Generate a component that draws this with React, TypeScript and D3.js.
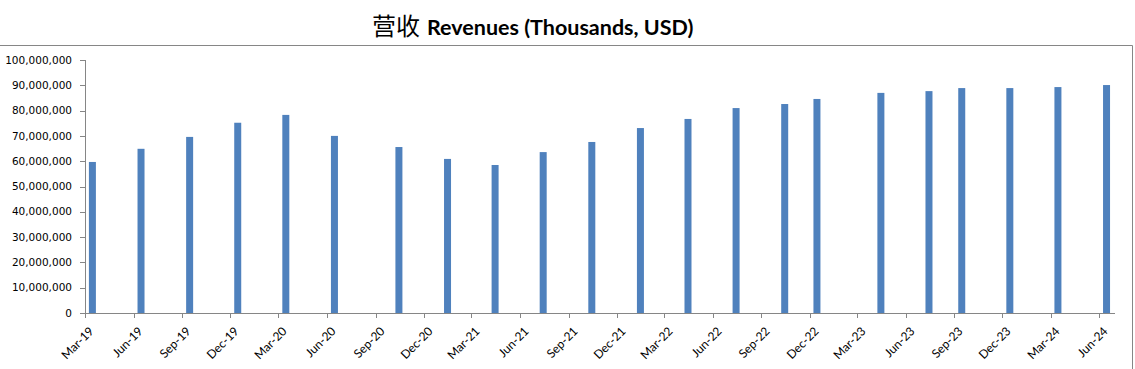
import React from 'react';
import * as d3 from 'd3';

// report dates (bars are placed on a time axis, mid-month)
const dates = [
  '2019-03-15', '2019-06-15', '2019-09-15', '2019-12-15', '2020-03-15', '2020-06-15',
  '2020-10-15', '2021-01-15', '2021-04-15', '2021-07-15', '2021-10-15', '2022-01-15',
  '2022-04-15', '2022-07-15', '2022-10-15', '2022-12-15', '2023-04-15', '2023-07-15',
  '2023-09-15', '2023-12-15', '2024-03-15', '2024-06-15',
];
const revenues = [
  59700000, 64900000, 69600000, 75200000, 78300000, 70000000,
  65600000, 60900000, 58500000, 63600000, 67600000, 73100000,
  76700000, 81000000, 82600000, 84600000, 87000000, 87700000,
  88900000, 88900000, 89300000, 90100000,
];
const yTicks = [0, 10000000, 20000000, 30000000, 40000000, 50000000, 60000000, 70000000, 80000000, 90000000, 100000000];
const xTickLabels = [
  'Mar-19', 'Jun-19', 'Sep-19', 'Dec-19', 'Mar-20', 'Jun-20', 'Sep-20', 'Dec-20',
  'Mar-21', 'Jun-21', 'Sep-21', 'Dec-21', 'Mar-22', 'Jun-22', 'Sep-22', 'Dec-22',
  'Mar-23', 'Jun-23', 'Sep-23', 'Dec-23', 'Mar-24', 'Jun-24',
];

const W = 1135;
const H = 369;
const left = 85, right = 1115, top = 60, bottom = 313;
const parse = d3.timeParse('%Y-%m-%d');
const parseTick = d3.timeParse('%b-%y');

export default function App() {
  const x = d3.scaleTime()
    .domain([new Date(2019, 2, 1), new Date(2024, 6, 1)])
    .range([left, right]);
  const y = d3.scaleLinear().domain([0, 100000000]).range([bottom, top]);
  const fmt = d3.format(',');
  const axisColor = '#868686';
  const barW = 7;

  return (
    <svg width={W} height={H} style={{ position: 'absolute', left: 0, top: 0, background: 'white' }}>
      <path d={`M0,45.5H1132.5V${H}`} fill="none" stroke={axisColor} strokeWidth={1} />
      <text x={372} y={35} fontSize={24} fill="#000">
        <tspan fontFamily="'Noto Sans CJK SC'">营收</tspan>
        <tspan fontFamily="Lato" fontWeight="bold" fontSize={21.5} dx={7}>Revenues (Thousands, USD)</tspan>
      </text>

      {dates.map((d, i) => {
        const cx = x(parse(d)!);
        return (
          <rect key={d} x={cx - barW / 2} y={y(revenues[i])} width={barW}
            height={bottom - y(revenues[i])} fill="#4F81BD" />
        );
      })}

      {/* y axis */}
      <line x1={left + 0.5} x2={left + 0.5} y1={top} y2={bottom} stroke={axisColor} />
      {yTicks.map(t => (
        <g key={t}>
          <line x1={left - 5} x2={left} y1={Math.round(y(t)) + 0.5} y2={Math.round(y(t)) + 0.5} stroke={axisColor} />
          <text x={72} y={y(t)} dy="0.35em" textAnchor="end" fontFamily="'DejaVu Sans'" fontSize={10.5} fill="#000">
            {fmt(t)}
          </text>
        </g>
      ))}

      {/* x axis */}
      <line x1={left} x2={right} y1={bottom + 0.5} y2={bottom + 0.5} stroke={axisColor} />
      {xTickLabels.map(l => {
        const tx = Math.round(x(parseTick(l)!)) + 0.5;
        return (
          <g key={l}>
            <line x1={tx} x2={tx} y1={bottom} y2={bottom + 5} stroke={axisColor} />
            <text transform={`translate(${tx + 9},${bottom + 19}) rotate(-45)`} textAnchor="end"
              fontFamily="Lato" fontSize={12} fill="#000">
              {l}
            </text>
          </g>
        );
      })}
    </svg>
  );
}
